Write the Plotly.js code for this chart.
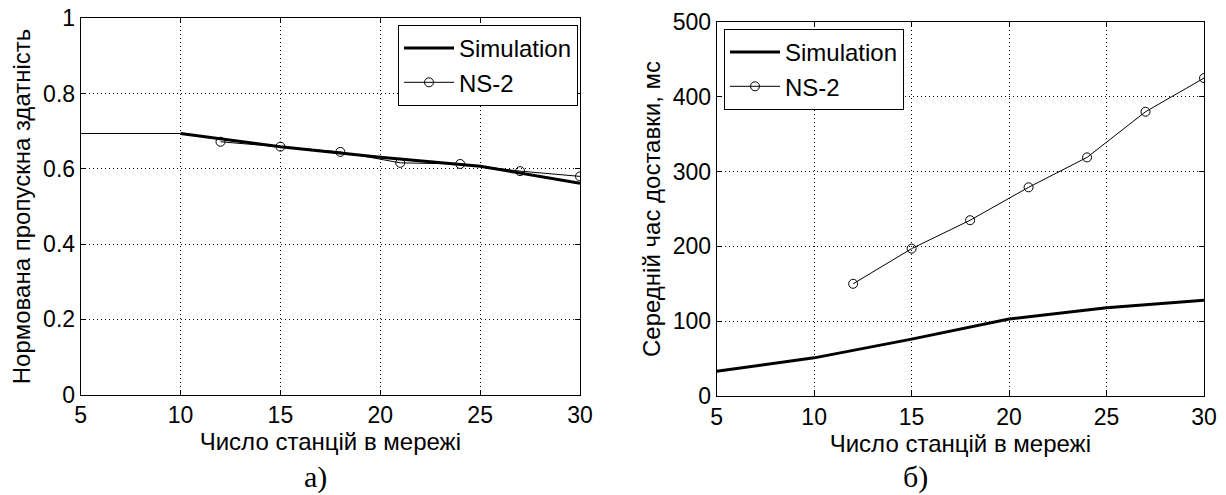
<!DOCTYPE html>
<html>
<head>
<meta charset="utf-8">
<script src="https://cdn.plot.ly/plotly-3.0.1.min.js"></script>
<style>html,body{margin:0;padding:0;background:#fff;}#chart{width:1226px;height:495px;}</style>
</head>
<body>
<div id="chart"></div>
<script>
// ---- data ----
const stations = [5, 10, 15, 20, 25, 30];
const ns2Stations = [12, 15, 18, 21, 24, 27, 30];

// (а) normalized throughput
const simThroughputFlatX = [5, 10];
const simThroughputFlatY = [0.694, 0.694];
const simThroughputX = [10, 15, 20, 25, 30];
const simThroughputY = [0.694, 0.659, 0.631, 0.607, 0.562];
const ns2Throughput = [0.672, 0.659, 0.645, 0.616, 0.613, 0.594, 0.580];

// (б) mean delivery time, ms
const simDelay = [33, 51, 76, 103, 118, 128];
const ns2Delay = [150, 197, 235, 279, 319, 380, 425];

const xTicks = [5, 10, 15, 20, 25, 30];
const xTitle = 'Число станцій в мережі';
const yTitleA = 'Нормована пропускна здатність';
const yTitleB = 'Середній час доставки, мс';
const seriesNames = ['Simulation', 'NS-2'];
const panelLabels = ['а)', 'б)'];

// ---- chart ----
const FONT = 'Liberation Sans, Arial, sans-serif';
const W = 1226, H = 495;
const px = v => v / W, py = v => 1 - v / H;

const markerStyle = {symbol: 'circle-open', size: 9, color: '#000', line: {width: 1, color: '#000'}};

const traces = [
  {x: simThroughputFlatX, y: simThroughputFlatY, xaxis: 'x', yaxis: 'y', mode: 'lines',
   line: {color: '#000', width: 1}, showlegend: false, hoverinfo: 'skip'},
  {x: simThroughputX, y: simThroughputY, xaxis: 'x', yaxis: 'y', mode: 'lines', name: seriesNames[0],
   line: {color: '#000', width: 3}, legend: 'legend'},
  {x: ns2Stations, y: ns2Throughput, xaxis: 'x', yaxis: 'y', mode: 'lines+markers', name: seriesNames[1],
   line: {color: '#000', width: 1}, marker: markerStyle, legend: 'legend'},
  {x: stations, y: simDelay, xaxis: 'x2', yaxis: 'y2', mode: 'lines', name: seriesNames[0],
   line: {color: '#000', width: 3}, legend: 'legend2'},
  {x: ns2Stations, y: ns2Delay, xaxis: 'x2', yaxis: 'y2', mode: 'lines+markers', name: seriesNames[1],
   line: {color: '#000', width: 1}, marker: markerStyle, legend: 'legend2'}
];

const axisCommon = {
  showline: true, linecolor: '#000', linewidth: 1, mirror: 'ticks',
  ticks: 'inside', ticklen: 5, tickcolor: '#000', tickwidth: 1,
  showgrid: true, gridcolor: '#000', griddash: '1px,3px', gridwidth: 1,
  zeroline: false, automargin: false,
  tickfont: {family: FONT, size: 23, color: '#000'}
};

const titleFont = {family: FONT, size: 24, color: '#000'};

const legendCommon = {
  bgcolor: '#fff', bordercolor: '#000', borderwidth: 1,
  font: {family: FONT, size: 24, color: '#000'},
  yanchor: 'top', itemwidth: 50
};

const labelFont = {family: 'Liberation Serif, Times New Roman, serif', size: 30, color: '#000'};

const layout = {
  width: W, height: H,
  margin: {l: 0, r: 0, t: 0, b: 0},
  paper_bgcolor: '#fff', plot_bgcolor: '#fff',
  font: {family: FONT, color: '#000'},
  xaxis: Object.assign({}, axisCommon, {
    domain: [px(80.7), px(580)], range: [5, 30], tickvals: xTicks, anchor: 'y',
    title: {text: xTitle, font: titleFont, standoff: 2}
  }),
  yaxis: Object.assign({}, axisCommon, {
    domain: [py(394.7), py(18.3)], range: [0, 1], dtick: 0.2, anchor: 'x',
    title: {text: yTitleA, font: titleFont, standoff: 5}
  }),
  xaxis2: Object.assign({}, axisCommon, {
    domain: [px(716.7), px(1204)], range: [5, 30], tickvals: xTicks, anchor: 'y2',
    title: {text: xTitle, font: titleFont, standoff: 2}
  }),
  yaxis2: Object.assign({}, axisCommon, {
    domain: [py(396), py(22)], range: [0, 500], dtick: 100, anchor: 'x2',
    title: {text: yTitleB, font: titleFont, standoff: 5}
  }),
  legend: Object.assign({}, legendCommon, {xanchor: 'right', x: px(578), y: py(25)}),
  legend2: Object.assign({}, legendCommon, {xanchor: 'left', x: px(724), y: py(29)}),
  annotations: [
    {text: panelLabels[0], xref: 'paper', yref: 'paper', x: px(302), y: py(477), yanchor: 'middle',
     showarrow: false, font: labelFont},
    {text: panelLabels[1], xref: 'paper', yref: 'paper', x: px(930), y: py(477), yanchor: 'middle',
     showarrow: false, font: labelFont}
  ]
};

Plotly.newPlot('chart', traces, layout, {staticPlot: true, displayModeBar: false});
</script>
</body>
</html>
